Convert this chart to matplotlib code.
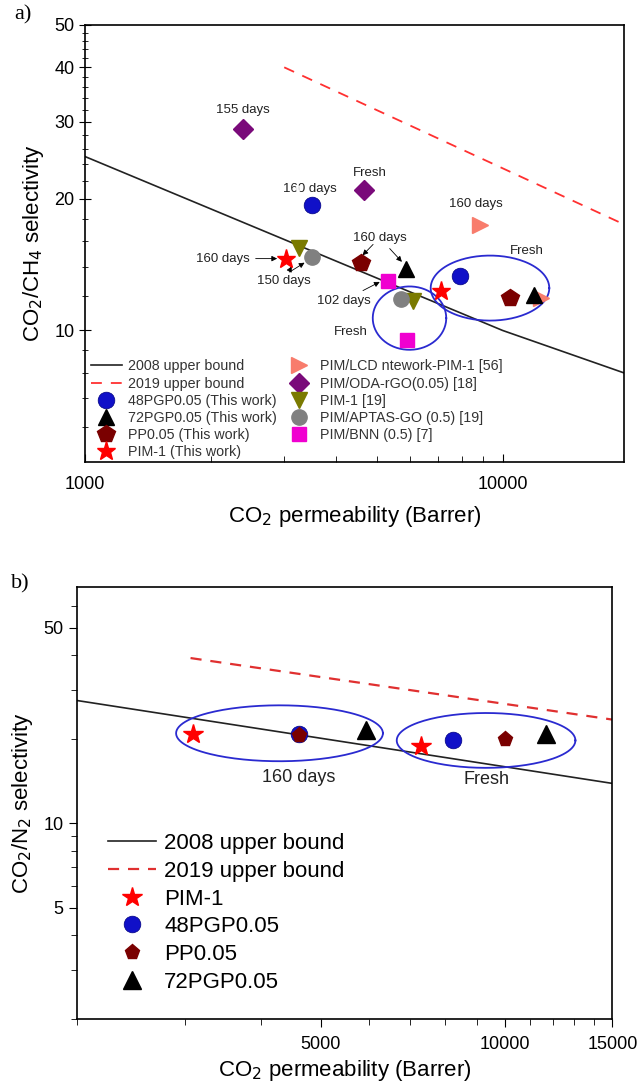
import numpy as np
import matplotlib
matplotlib.use('Agg')
import matplotlib.pyplot as plt
from matplotlib.ticker import FixedLocator, NullFormatter, FixedFormatter

plt.rcParams['font.family'] = ['Liberation Sans', 'DejaVu Sans']

# ---------------- panel a data: CO2/CH4 ----------------
ub08_a_x = [1000, 10000, 19500]
ub08_a_y = [25.0, 10.0, 8.0]
ub19_a_x = [3000, 19500]
ub19_a_y = [40.0, 17.5]

pgp48_a_x = [3497, 7887]
pgp48_a_y = [19.4, 13.3]
pgp72_a_x = [5863, 11875]
pgp72_a_y = [13.8, 12.07]
pp_a_x = [4571, 10430]
pp_a_y = [14.3, 11.86]
pim_a_x = [3024, 7124]
pim_a_y = [14.6, 12.3]
lcd_x = [8826, 12390]
lcd_y = [17.4, 11.86]
oda_x = [2395, 4664]
oda_y = [28.9, 21.0]
pim19_x = [3263, 6107]
pim19_y = [15.4, 11.65]
aptas_x = [3497, 5711]
aptas_y = [14.7, 11.8]
bnn_x = [5306, 5888]
bnn_y = [13.0, 9.5]

# ---------------- panel b data: CO2/N2 ----------------
ub08_b_x = [2000, 15000]
ub08_b_y = [27.5, 13.9]
ub19_b_x = [3066, 15000]
ub19_b_y = [39.0, 23.5]

pim_b_x = [3094, 7305]
pim_b_y = [20.8, 18.9]
pgp48_b_x = [4613, 8223]
pgp48_b_y = [20.9, 19.8]
pp_b_x = [4613, 10000]
pp_b_y = [20.7, 20.1]
pgp72_b_x = [5930, 11690]
pgp72_b_y = [21.5, 20.9]

BLUE = '#1010c8'
DRED = '#7a0000'
SALMON = '#f87c6c'
PURPLE = '#7a0a7a'
OLIVE = '#7a7a00'
GRAY = '#808080'
MAGENTA = '#f000d0'


def ellipse(ax, cx, cy, wdec, hdec):
    t = np.linspace(0, 2 * np.pi, 200)
    lx = np.log10(cx) + wdec * np.cos(t)
    ly = np.log10(cy) + hdec * np.sin(t)
    ax.plot(10 ** lx, 10 ** ly, color='#2a2ad0', lw=1.3, zorder=2)


def sphere(ax, x, y, ms, label=None):
    ax.plot(x, y, 'o', color=BLUE, ms=ms, mec='#000080', mew=0.5, ls='none', label=label, zorder=4)
    ax.plot(x, y, 'o', color='white', ms=ms * 0.3, ls='none', alpha=0.8, zorder=5,
            transform=ax.transData + matplotlib.transforms.ScaledTranslation(-ms * 0.012, ms * 0.014, fig.dpi_scale_trans))


fig = plt.figure(figsize=(6.39, 10.86), dpi=100)

# ================= panel a =================
ax = fig.add_axes([0.133, 0.5746, 0.843, 0.4024])
ax.set_xscale('log')
ax.set_yscale('log')
ax.set_xlim(1000, 19500)
ax.set_ylim(5, 50)

ax.plot(ub08_a_x, ub08_a_y, color='#222222', lw=1.2, label='2008 upper bound', zorder=1)
ax.plot(ub19_a_x, ub19_a_y, color='#ff3030', lw=1.3, ls=(0, (6, 5)), label='2019 upper bound', zorder=1)
sphere(ax, pgp48_a_x, pgp48_a_y, 12, '48PGP0.05 (This work)')
ax.plot(pgp72_a_x, pgp72_a_y, '^', color='black', ms=12, ls='none', label='72PGP0.05 (This work)', zorder=4)
ax.plot(pp_a_x, pp_a_y, 'p', color=DRED, ms=13, ls='none', label='PP0.05 (This work)', zorder=4)
ax.plot(pim_a_x, pim_a_y, '*', color='red', ms=14, ls='none', label='PIM-1 (This work)', zorder=4)
ax.plot(lcd_x, lcd_y, '>', color=SALMON, ms=12, ls='none', label='PIM/LCD ntework-PIM-1 [56]', zorder=3)
ax.plot(oda_x, oda_y, 'D', color=PURPLE, ms=10, ls='none', label='PIM/ODA-rGO(0.05) [18]', zorder=4)
ax.plot(pim19_x, pim19_y, 'v', color=OLIVE, ms=12, ls='none', label='PIM-1 [19]', zorder=3)
ax.plot(aptas_x, aptas_y, 'o', color=GRAY, ms=11, ls='none', label='PIM/APTAS-GO (0.5) [19]', zorder=3)
ax.plot(bnn_x, bnn_y, 's', color=MAGENTA, ms=10, ls='none', label='PIM/BNN (0.5) [7]', zorder=3)

ellipse(ax, 9330, 12.5, 0.142, 0.0744)
ellipse(ax, 5986, 10.67, 0.088, 0.0725)

tk = dict(fontsize=9.5, color='#222222', ha='center', va='center')
ax.text(2395, 32.0, '155 days', **tk)
ax.text(4800, 22.9, 'Fresh', **tk)
ax.text(3450, 21.1, '160 days', **tk)
ax.text(8650, 19.5, '160 days', **tk)
ax.text(11430, 15.2, 'Fresh', **tk)
ax.text(4340, 9.9, 'Fresh', **tk)

arr = dict(arrowstyle='-|>', color='black', lw=0.6, mutation_scale=8)
ax.annotate('160 days', xy=(2930, 14.6), xytext=(2143, 14.6), arrowprops=arr, **tk)
ax.annotate('', xy=(4571, 14.7), xytext=(4950, 15.9), arrowprops=arr)
ax.annotate('160 days', xy=(5800, 14.2), xytext=(5080, 16.3), arrowprops=arr, **tk)
ax.annotate('150 days', xy=(3150, 14.2), xytext=(3000, 13.0), arrowprops=arr, **tk)
ax.annotate('', xy=(3400, 14.4), xytext=(3050, 13.5), arrowprops=arr)
ax.annotate('102 days', xy=(5150, 13.0), xytext=(4160, 11.7), arrowprops=arr, **tk)

ax.tick_params(axis='x', which='both', direction='in', top=False, labelsize=13, length=4, pad=10)
ax.tick_params(axis='x', which='major', length=6)
ax.tick_params(axis='y', which='both', direction='inout', right=False, labelsize=13)
ax.tick_params(axis='y', which='major', length=8)
ax.tick_params(axis='y', which='minor', length=5)
ax.xaxis.set_major_locator(FixedLocator([1000, 10000]))
ax.xaxis.set_major_formatter(FixedFormatter(['1000', '10000']))
ax.xaxis.set_minor_locator(FixedLocator([2000, 3000, 4000, 5000, 6000, 7000, 8000, 9000]))
ax.xaxis.set_minor_formatter(NullFormatter())
ax.yaxis.set_major_locator(FixedLocator([10, 20, 30, 40, 50]))
ax.yaxis.set_major_formatter(FixedFormatter(['10', '20', '30', '40', '50']))
ax.yaxis.set_minor_locator(FixedLocator([6, 7, 8, 9] + list(range(12, 20, 2)) + list(range(22, 30, 2)) + list(range(32, 40, 2)) + list(range(42, 50, 2))))
ax.yaxis.set_minor_formatter(NullFormatter())
for s in ax.spines.values():
    s.set_linewidth(1.2)
ax.set_xlabel('CO$_2$ permeability (Barrer)', fontsize=16, labelpad=8)
ax.set_ylabel('CO$_2$/CH$_4$ selectivity', fontsize=16, labelpad=6)
ax.legend(loc='lower left', ncol=2, frameon=False, fontsize=10.3, labelcolor='#333333',
          handlelength=2.2, handletextpad=0.4, columnspacing=0.45, labelspacing=0.22,
          borderaxespad=0.0, borderpad=0.2, bbox_to_anchor=(0.005, 0.0))
fig.text(0.036, 0.986, 'a)', fontsize=16, family='Liberation Serif', ha='center', va='center')

# ================= panel b =================
bx = fig.add_axes([0.1205, 0.0617, 0.838, 0.3978])
bx.set_xscale('log')
bx.set_yscale('log')
bx.set_xlim(2000, 15000)
bx.set_ylim(2, 70)

bx.plot(ub08_b_x, ub08_b_y, color='#222222', lw=1.2, label='2008 upper bound', zorder=1)
bx.plot(ub19_b_x, ub19_b_y, color='#e03030', lw=1.6, ls=(0, (5, 4)), label='2019 upper bound', zorder=1)
bx.plot(pim_b_x, pim_b_y, '*', color='red', ms=15, ls='none', label='PIM-1', zorder=4)
sphere(bx, pgp48_b_x, pgp48_b_y, 12, '48PGP0.05')
bx.plot(pp_b_x, pp_b_y, 'p', color=DRED, ms=11, ls='none', label='PP0.05', zorder=6)
bx.plot(pgp72_b_x, pgp72_b_y, '^', color='black', ms=13, ls='none', label='72PGP0.05', zorder=4)

ellipse(bx, 4285, 21.0, 0.169, 0.0999)
ellipse(bx, 9322, 19.8, 0.146, 0.098)
bx.text(4613, 14.6, '160 days', fontsize=13, ha='center', va='center', color='#222222')
bx.text(9322, 14.4, 'Fresh', fontsize=13, ha='center', va='center', color='#222222')

bx.tick_params(axis='both', which='both', direction='out', top=False, right=False, labelsize=13)
bx.tick_params(which='major', length=6)
bx.tick_params(which='minor', length=4)
bx.tick_params(axis='x', pad=6)
bx.xaxis.set_major_locator(FixedLocator([5000, 10000, 15000]))
bx.xaxis.set_major_formatter(FixedFormatter(['5000', '10000', '15000']))
bx.xaxis.set_minor_locator(FixedLocator([2000, 3000, 4000, 6000, 7000, 8000, 9000, 11000, 12000, 13000, 14000]))
bx.xaxis.set_minor_formatter(NullFormatter())
bx.yaxis.set_major_locator(FixedLocator([5, 10, 50]))
bx.yaxis.set_major_formatter(FixedFormatter(['5', '10', '50']))
bx.yaxis.set_minor_locator(FixedLocator([2, 3, 4, 6, 7, 8, 9, 20, 30, 40, 60]))
bx.yaxis.set_minor_formatter(NullFormatter())
for s in bx.spines.values():
    s.set_linewidth(1.2)
bx.set_xlabel('CO$_2$ permeability (Barrer)', fontsize=16, labelpad=4)
bx.set_ylabel('CO$_2$/N$_2$ selectivity', fontsize=16, labelpad=6)
bx.legend(loc='upper left', frameon=False, fontsize=16, handlelength=2.2, handletextpad=0.35,
          labelspacing=0.3, borderaxespad=0.0, borderpad=0.0, bbox_to_anchor=(0.057, 0.43))
fig.text(0.032, 0.462, 'b)', fontsize=16, family='Liberation Serif', ha='center', va='center')

fig.savefig('out.png', dpi=100)
